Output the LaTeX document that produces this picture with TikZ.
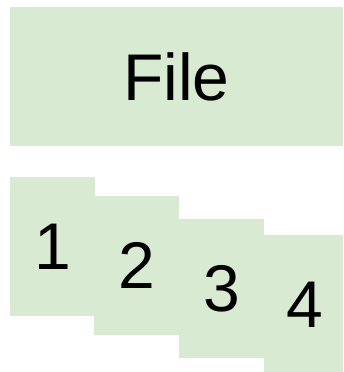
\documentclass[tikz,border=0pt]{standalone}
\usepackage{fontspec}
\setmainfont{Liberation Sans}
\definecolor{boxgreen}{HTML}{D9EAD3}
\tikzset{
  greenbox/.style={fill=boxgreen, draw=none, inner sep=0pt, anchor=center,
    font=\fontsize{66}{66}\selectfont},
}
\begin{document}
\begin{tikzpicture}[x=1pt,y=1pt]
\useasboundingbox (0,0) rectangle (343,372);
\clip (0,0) rectangle (343,372);
\node[greenbox, minimum width=333pt, minimum height=139pt] (file) at (176.5,295.5) {File};
\node[greenbox, minimum width=85pt, minimum height=139pt] (b1) at (52.5,125.5) {1};
\node[greenbox, minimum width=85pt, minimum height=139pt] (b2) at (136.5,106.5) {2};
\node[greenbox, minimum width=85pt, minimum height=139pt] (b3) at (221.5,83.5) {3};
\node[greenbox, minimum width=82pt, minimum height=139pt] (b4) at (305,67.5) {4};
\end{tikzpicture}
\end{document}
